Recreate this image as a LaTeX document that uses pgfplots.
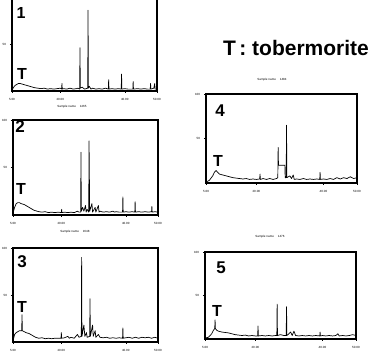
\documentclass[border=0pt]{standalone}
\usepackage{fontspec}
\setmainfont{Liberation Sans}
\usepackage{pgfplots}
\pgfplotsset{compat=1.18}
\pgfplotsset{
  xrd/.style={
    scale only axis,
    anchor=south west,
    xmin=5, xmax=50, ymin=0, ymax=100,
    xtick={5,20,40,50},
    xticklabels={5.00,20.00,40.00,50.00},
    ytick={50,100},
    yticklabels={50,100},
    tick label style={font=\fontsize{3}{3}\selectfont},
    /pgf/number format/assume math mode=true,
    major tick length=2pt,
    tick align=outside,
    xtick pos=bottom, ytick pos=left,
    line width=1.2pt,
    every tick/.style={black, line width=0.5pt},
    xticklabel style={yshift=-1pt},
  },
  spec/.style={black, line width=0.7pt, mark=none, line join=round},
}
\begin{document}
\begin{tikzpicture}
\useasboundingbox (0pt,0pt) rectangle (380pt,352pt);
\clip (0pt,0pt) rectangle (380pt,352pt);

% Panel 1
\begin{axis}[xrd, at={(12pt,261pt)}, width=145pt, height=94pt, ytick={50}, yticklabels={50}]
\addplot[spec] coordinates {
(5,1)(5.5,4)(6,6)(6.5,7)(7,8)(7.5,8)(8,7.5)(8.5,7)(9,6.5)(10,5.5)(11,4.5)(12,3.5)(13,3)(14,2.5)(15,3)(16,2)(17,2.5)(18,2)(19,2.5)(20,3)(20.4,2)(20.5,8)(20.6,2)(21,2.5)(22,2)(23,3)(24,2)(25,2.5)(25.5,3)(26.0,2)(26.1,46)(26.2,3)(26.8,4)(27.5,2)(28.5,3)(28.6,86)(28.7,3)(29,5)(29.5,2)(30,3)(31,2)(32,2.5)(33,2)(34,3)(34.9,2)(35,12)(35.1,2)(36,2.5)(37,2)(38,2.5)(38.9,2)(39,18)(39.1,2)(40,2.5)(41,2)(42.5,2)(42.6,10)(42.7,2)(44,2.5)(45,2)(46,2.5)(47,2)(47.9,2)(48,8)(48.1,2)(49,3)(49.3,8)(49.4,2)(50,2)
};
\end{axis}

% Panel 2
\begin{axis}[xrd, at={(13pt,137pt)}, width=145pt, height=95pt]
\addplot[spec] coordinates {
(5,2)(5.5,8)(6,12)(6.5,13)(7,13)(7.5,12)(8,11.5)(8.5,11)(9,10)(9.5,9)(10,8)(10.5,7)(11,6)(11.5,5)(12,4.5)(12.5,4)(13,3.5)(14,3)(15,3.5)(16,2.5)(17,3)(18,2.5)(19,3)(20,2.5)(20.1,6)(20.2,2.5)(21,3)(22,2.5)(23,3)(24,2.5)(25,4)(25.5,3)(26.0,3)(26.1,66)(26.2,4)(26.6,8)(27,4)(27.5,10)(27.7,3)(28,6)(28.5,3)(28.6,78)(28.8,4)(29.5,12)(29.7,3)(30.5,8)(30.7,3)(31.5,10)(31.7,3)(32,4)(33,3)(34,3.5)(35,3)(36,4)(36.5,3)(37,3.5)(38,3)(39,3)(39.1,19)(39.2,3)(40,3.5)(41,3)(42,3.5)(42.8,3)(42.9,14)(43,3)(44,3.5)(45,3)(46,3.5)(47,3)(48,3.5)(48.1,9)(48.2,3)(49,3.5)(50,3)
};
\end{axis}

% Panel 3
\begin{axis}[xrd, at={(13pt,10pt)}, width=145pt, height=94pt]
\addplot[spec] coordinates {
(5,1)(5.5,8)(6,10)(6.5,11)(7,12)(7.5,12)(7.7,12)(7.8,29)(7.9,12)(8.5,11)(9,10)(10,9)(11,7)(12,5)(13,4)(14,4.5)(15,3.5)(16,4)(17,3.5)(18,4)(19,4)(19.9,4)(20,10)(20.1,4)(21,4.5)(22,6)(22.5,4)(23,5)(24,4)(25,8)(25.5,5)(26.2,6)(26.3,90)(26.4,6)(27,18)(27.3,6)(27.8,10)(28,5)(28.8,6)(28.9,46)(29,6)(29.7,18)(29.9,6)(30.5,12)(30.7,5)(31.5,8)(32,5)(33,4.5)(34,5)(35,4)(36,4.5)(37,4)(38,4.5)(39,4)(39.1,15)(39.2,4)(40,4.5)(41,5)(42,4)(43,5)(44,4)(45,5)(46,4.5)(47,5)(48,4)(49,5)(50,4)
};
\end{axis}

% Panel 4
\begin{axis}[xrd, at={(206pt,169pt)}, width=151pt, height=89pt]
\addplot[spec] coordinates {
(5,1)(6,3)(7,8)(7.5,12)(8,14)(8.5,12)(9,10)(10,9)(11,8)(12,7)(13,6)(14,5.5)(15,5)(16,4.5)(17,5)(18,4)(19,4.5)(20,4)(21,4.5)(21.1,10)(21.2,4)(22,5)(23,4)(24,5)(25,4)(26,5)(26.4,6)(26.5,40)(26.6,20)(27.5,20)(28.5,20)(28.6,6)(28.9,6)(29.0,65)(29.1,6)(30,8)(30.5,5)(31,9)(31.3,4)(32,4.5)(33,4)(34,5)(35,4)(36,4.5)(37,4)(38,4.5)(38.9,4)(39,12)(39.1,4)(40,4.5)(41,4)(42,5)(43,4)(44,6)(45,4.5)(46,6)(47,5)(48,7)(49,5)(50,6)
};
\end{axis}

% Panel 5
\begin{axis}[xrd, at={(205pt,13pt)}, width=151pt, height=87pt]
\addplot[spec] coordinates {
(5,1)(6,2)(7,6)(7.5,10)(7.9,12)(8,22)(8.1,12)(8.5,10)(9,9)(10,8)(11,7.5)(12,7)(13,6)(14,5)(15,4.5)(16,4)(17,4.5)(18,3.5)(19,4)(20,3.5)(20.7,3.5)(20.8,15)(20.9,3.5)(22,4)(23,3.5)(24,4)(25,3.5)(26,4)(26.4,4)(26.5,40)(26.6,4)(27.5,5)(28.5,4)(29.2,4)(29.3,37)(29.4,4)(30,6)(30.5,8)(31,4)(31.5,9)(32,4)(33,3.5)(34,4)(35,3.5)(36,4)(37,3.5)(38,4)(39.2,3.5)(39.3,8)(39.4,3.5)(40,4)(41,3.5)(42,4)(43,3.5)(44,4)(44.6,6)(45,3.5)(46,4)(47,3.5)(48,4)(49,5)(50,4)
};
\end{axis}

% Labels
\begin{scope}[x=1pt,y=1pt]
\node[font=\bfseries\fontsize{16}{16}\selectfont] at (21,339) {1};
\node[font=\bfseries\fontsize{16}{16}\selectfont] at (22,278) {T};
\node[font=\bfseries\fontsize{17}{17}\selectfont] at (20,225) {2};
\node[font=\bfseries\fontsize{16}{16}\selectfont] at (21,163) {T};
\node[font=\bfseries\fontsize{17}{17}\selectfont] at (22,90) {3};
\node[font=\bfseries\fontsize{16}{16}\selectfont] at (22,45) {T};
\node[font=\bfseries\fontsize{17}{17}\selectfont] at (220,241) {4};
\node[font=\bfseries\fontsize{16}{16}\selectfont] at (218,191) {T};
\node[font=\bfseries\fontsize{17}{17}\selectfont] at (221,84) {5};
\node[font=\bfseries\fontsize{16}{16}\selectfont] at (217,41) {T};

\node[font=\bfseries\fontsize{21}{21}\selectfont] at (296,304) {T\,: tobermorite};

\node[font=\fontsize{3}{3}\selectfont] at (72,245) {Sample name \quad 1465};
\node[font=\fontsize{3}{3}\selectfont] at (75,120) {Sample name \quad 1648};
\node[font=\fontsize{3}{3}\selectfont] at (272,272) {Sample name \quad 1484};
\node[font=\fontsize{3}{3}\selectfont] at (270,115) {Sample name \quad 1476};
\end{scope}
\end{tikzpicture}
\end{document}
